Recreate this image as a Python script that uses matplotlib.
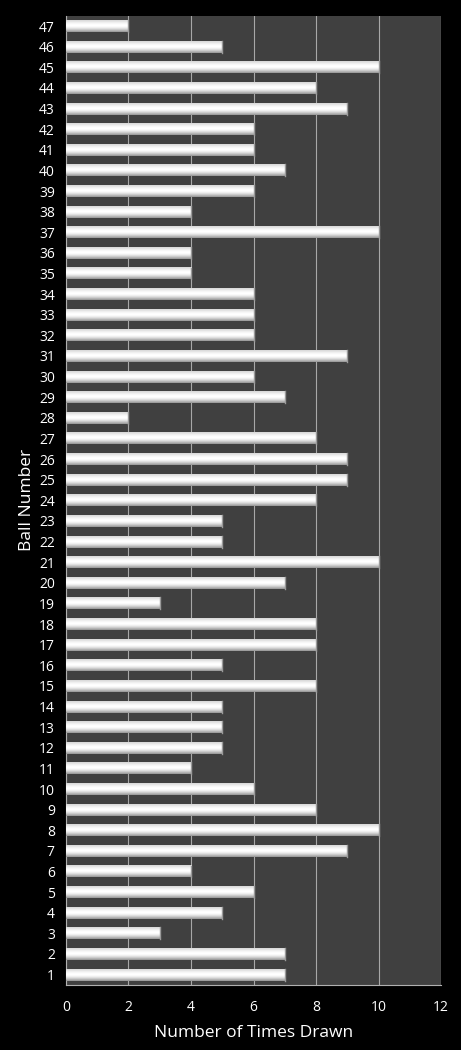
import matplotlib
matplotlib.use("Agg")
import matplotlib.pyplot as plt
import numpy as np

ball_numbers = list(range(1, 48))
times_drawn = [
    7, 7, 3, 5, 6, 4, 9, 10, 8, 6,
    4, 5, 5, 5, 8, 5, 8, 8, 3, 7,
    10, 5, 5, 8, 9, 9, 8, 2, 7, 6,
    9, 6, 6, 6, 4, 4, 10, 4, 6, 7,
    6, 6, 9, 8, 10, 5, 2,
]
x_ticks = [0, 2, 4, 6, 8, 10, 12]

plt.rcParams["font.family"] = ["Open Sans", "DejaVu Sans"]

fig = plt.figure(figsize=(4.61, 10.5), dpi=100, facecolor="black")
ax = fig.add_axes([0.143, 0.062, 0.814, 0.923])
ax.set_facecolor("#404040")

bar_h = 0.58
# vertical shading of each bar: grey at bottom, white in the middle, light at top
shade = np.array([0.62, 0.72, 0.82, 0.9, 0.96, 1.0, 1.0, 0.98, 0.95, 0.9, 0.86])
grad = np.dstack([shade, shade, shade])[0][:, None, :]

bars = ax.barh(ball_numbers, times_drawn, height=bar_h, color="white",
               edgecolor="none", zorder=3)
for rect in bars:
    x0, y0 = rect.get_x(), rect.get_y()
    w, h = rect.get_width(), rect.get_height()
    ax.imshow(grad, extent=(x0, x0 + w, y0, y0 + h), aspect="auto",
              origin="lower", interpolation="bilinear", zorder=4)
    ax.plot([x0 + w, x0 + w], [y0, y0 + h], color="#9a9a9a", lw=1.0, zorder=5)

ax.set_xlim(0, 12)
ax.set_ylim(0.5, 47.5)
ax.set_xticks(x_ticks)
ax.set_yticks(ball_numbers)
ax.xaxis.grid(True, color="#a8a8a8", lw=0.8, zorder=1)
ax.set_axisbelow(True)
ax.tick_params(axis="both", colors="white", labelsize=10, length=0)
ax.tick_params(axis="x", pad=11)
ax.tick_params(axis="y", pad=8)

for side in ("top", "right"):
    ax.spines[side].set_visible(False)
for side in ("left", "bottom"):
    ax.spines[side].set_color("#b0b0b0")
    ax.spines[side].set_linewidth(0.8)

ax.set_xlabel("Number of Times Drawn", color="white", fontsize=12.5, labelpad=7)
ax.set_ylabel("Ball Number", color="white", fontsize=12.5, labelpad=3)

fig.savefig("out.png", dpi=100, facecolor="black")
